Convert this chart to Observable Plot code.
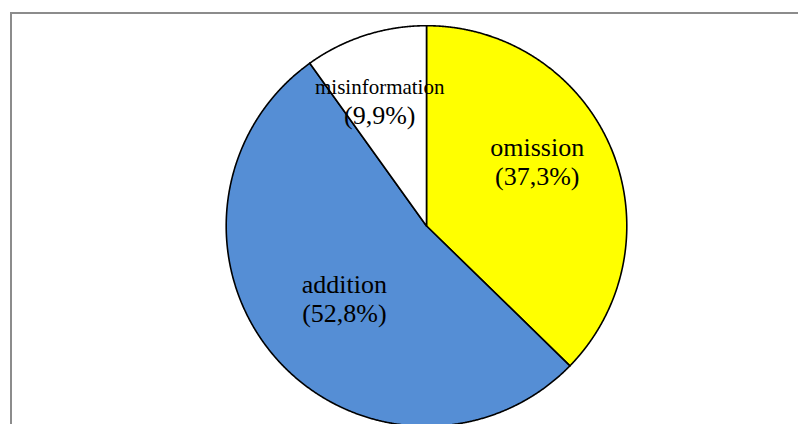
<!DOCTYPE html>
<html>
<head>
<meta charset="utf-8">
<script src="https://cdn.jsdelivr.net/npm/d3@7"></script>
<script src="https://cdn.jsdelivr.net/npm/@observablehq/plot@0.6"></script>
<style>
  html, body { margin: 0; padding: 0; background: #fff; }
  #chart svg { display: block; }
</style>
</head>
<body>
<div id="chart"></div>
<script>
// ---- data ----
const categories = ["omission", "addition", "misinformation"];
const shares = [37.3, 52.8, 9.9];
const pctLabels = ["(37,3%)", "(52,8%)", "(9,9%)"];
const colors = ["#FFFF00", "#558ED5", "#FFFFFF"];

// ---- layout (pixels) ----
const W = 798, H = 424;
const R = 200.3, CX = 426, CY = 225.5;
const labelK = 0.6;
// per-label nudges in pixels (styling)
const nudge = {
  omission: [0, -16.7],
  addition: [9, -5],
  misinformation: [-10, -10]
};
const nameSize = {omission: 26, addition: 26, misinformation: 21};

const pie = d3.pie().sort(null).value(d => d.value)(
  categories.map((c, i) => ({name: c, value: shares[i], pct: pctLabels[i]}))
);

// polygon points for each slice (unit radius data space, y up)
const pts = [];
for (const a of pie) {
  const name = a.data.name;
  pts.push({name, x: 0, y: 0});
  const n = Math.max(2, Math.ceil((a.endAngle - a.startAngle) / 0.004));
  for (let i = 0; i <= n; i++) {
    const t = a.startAngle + (a.endAngle - a.startAngle) * i / n;
    pts.push({name, x: Math.sin(t), y: Math.cos(t)});
  }
  pts.push({name, x: 0, y: 0});
}

const labels = pie.map(a => {
  const mid = (a.startAngle + a.endAngle) / 2;
  const [dx, dy] = nudge[a.data.name];
  return {
    name: a.data.name,
    pct: a.data.pct,
    size: nameSize[a.data.name],
    x: labelK * Math.sin(mid) + dx / R,
    y: labelK * Math.cos(mid) - dy / R
  };
});

const font = "'Liberation Serif', 'Times New Roman', serif";

const chart = Plot.plot({
  width: W,
  height: H,
  margin: 0,
  style: {background: "#fff", fontFamily: font},
  x: {domain: [-CX / R, (W - CX) / R], axis: null},
  y: {domain: [(CY - H) / R, CY / R], axis: null},
  color: {domain: categories, range: colors},
  marks: [
    Plot.frame({stroke: "#8c8c8c", strokeWidth: 2, insetLeft: 10.5, insetTop: 12.5, insetRight: -10, insetBottom: -10}),
    Plot.line(pts, {x: "x", y: "y", z: "name", fill: "name", stroke: "#000", strokeWidth: 1.6, strokeLinejoin: "round", curve: "linear"}),
    Plot.text(labels, {x: "x", y: "y", text: "name", fontSize: "size", dy: -14.5, fill: "#000", fontFamily: font, textAnchor: "middle"}),
    Plot.text(labels, {x: "x", y: "y", text: "pct", fontSize: 26, dy: 14.5, fill: "#000", fontFamily: font, textAnchor: "middle"})
  ]
});
document.getElementById("chart").appendChild(chart);
</script>
</body>
</html>
